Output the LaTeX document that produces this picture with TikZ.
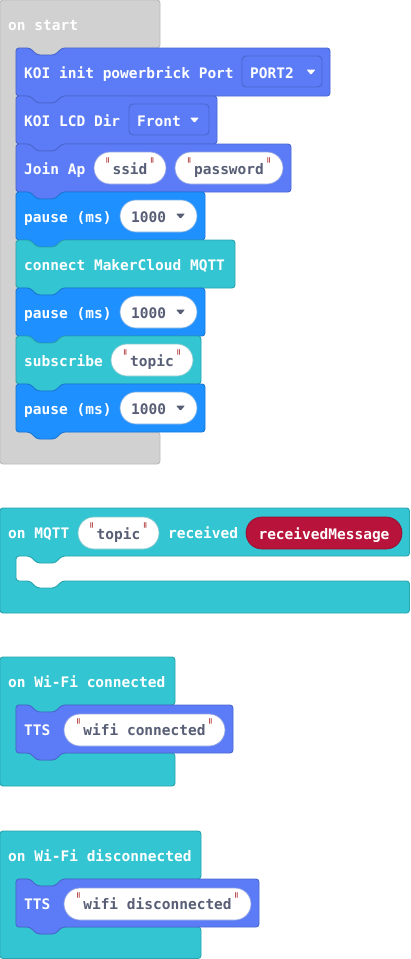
\documentclass[tikz,border=0pt]{standalone}
\usepackage{fontspec}
\usepackage{graphicx}
\newfontfamily\blockfont{DejaVu Sans Mono}
\definecolor{koi}{HTML}{5B7CF6}
\definecolor{koiedge}{HTML}{4A66CF}
\definecolor{basic}{HTML}{1E90FF}
\definecolor{basicedge}{HTML}{1A78D6}
\definecolor{cloud}{HTML}{33C5D2}
\definecolor{cloudedge}{HTML}{2AA4AE}
\definecolor{evgray}{HTML}{D1D1D1}
\definecolor{evgrayedge}{HTML}{BBBBBB}
\definecolor{varred}{HTML}{B8133A}
\definecolor{varrededge}{HTML}{931030}
\definecolor{fieldtext}{HTML}{575E75}
\definecolor{quotered}{HTML}{A31515}

% statement block with top notch and bottom tab: x, y, width, height, fill, edge
\newcommand{\stmtblock}[6]{%
  \draw[blk, fill=#5, draw=#6] (#1,#2) -- ++(14,0) -- ++(7,7) -- ++(18,0) -- ++(7,-7)
    -- (#1+#3,#2) -- (#1+#3,#2+#4) -- (#1+46,#2+#4) -- ++(-7,7) -- ++(-18,0) -- ++(-7,-7)
    -- (#1,#2+#4) -- cycle;}
% event block (C shape): top, bottom-arm top, bottom, width, fill, edge
\newcommand{\eventblock}[6]{%
  \draw[blk, fill=#5, draw=#6] (0,#1) -- (#4,#1) -- (#4,#1+48) -- (62,#1+48) -- ++(-7,7)
    -- ++(-18,0) -- ++(-7,-7) -- (16,#1+48) -- (16,#2) -- (30,#2) -- ++(7,7) -- ++(18,0)
    -- ++(7,-7) -- (#4,#2) -- (#4,#3) -- (0,#3) -- cycle;}
% string quote mark
\newcommand{\qmark}{{\color{quotered}\mdseries\raisebox{2pt}{\scalebox{0.6}[1.4]{"}}}}
% string value with quotes on both sides
\newcommand{\strval}[1]{\qmark\hspace{2.2pt}#1\hspace{2.2pt}\qmark}
% dropdown arrow centred at x, y
\newcommand{\droparrow}[3]{\fill[#3, rounded corners=0.8pt] (#1-4.5,#2-2.5) -- (#1+4.5,#2-2.5) -- (#1,#2+2.8) -- cycle;}

\tikzset{
  blk/.style={line width=0.9pt, rounded corners=3pt},
  lbl/.style={font=\blockfont\bfseries\fontsize{14.5}{16}\selectfont, text=white, inner sep=0pt, anchor=base west},
  fld/.style={lbl, text=fieldtext, anchor=base},
  pill/.style={fill=white, line width=0.7pt, rounded corners=15.9pt},
  drop/.style={line width=0.9pt, rounded corners=4pt},
}

\begin{document}
\begin{tikzpicture}[x=1pt, y=-1pt]
\useasboundingbox (0,0) rectangle (410,959);
\clip (0,0) rectangle (410,959);

% ---- on start ----
\eventblock{0}{432}{464}{160}{evgray}{evgrayedge}
\node[lbl] (onstart) at (8,30) {on start};

\stmtblock{16}{48}{314}{48}{koi}{koiedge}
\node[lbl] (koiinit) at (24,78) {KOI init powerbrick Port};
\draw[drop, fill=koi, draw=koiedge] (242,56) rectangle (322,87);
\node[lbl] (port) at (250,78) {PORT2};
\droparrow{311}{72}{white}

\stmtblock{16}{96}{201}{48}{koi}{koiedge}
\node[lbl] (lcddir) at (24,126) {KOI LCD Dir};
\draw[drop, fill=koi, draw=koiedge] (129,104) rectangle (209,135);
\node[lbl] (front) at (137,126) {Front};
\droparrow{194.5}{120}{white}

\stmtblock{16}{144}{275}{48}{koi}{koiedge}
\node[lbl] (joinap) at (24,174) {Join Ap};
\draw[pill, draw=koiedge!60] (94,152) rectangle (166,184);
\node[fld] (ssid) at (130,174) {\strval{ssid}};
\draw[pill, draw=koiedge!60] (175,152) rectangle (283,184);
\node[fld] (password) at (229,174) {\strval{password}};

\stmtblock{16}{192}{189}{48}{basic}{basicedge}
\node[lbl] (pauseA) at (24,222) {pause (ms)};
\draw[pill, draw=basicedge!60] (120,200) rectangle (197,232);
\node[lbl, text=fieldtext] (msA) at (131,222) {1000};
\droparrow{180.5}{216}{fieldtext}

\stmtblock{16}{240}{219}{48}{cloud}{cloudedge}
\node[lbl] (connect) at (24,270) {connect MakerCloud MQTT};

\stmtblock{16}{288}{189}{48}{basic}{basicedge}
\node[lbl] (pauseB) at (24,318) {pause (ms)};
\draw[pill, draw=basicedge!60] (120,296) rectangle (197,328);
\node[lbl, text=fieldtext] (msB) at (131,318) {1000};
\droparrow{180.5}{312}{fieldtext}

\stmtblock{16}{336}{185}{48}{cloud}{cloudedge}
\node[lbl] (subscribe) at (24,366) {subscribe};
\draw[pill, draw=cloudedge!60] (111,344) rectangle (193,376);
\node[fld] (subtopic) at (152,366) {\strval{topic}};

\stmtblock{16}{384}{189}{48}{basic}{basicedge}
\node[lbl] (pauseC) at (24,414) {pause (ms)};
\draw[pill, draw=basicedge!60] (120,392) rectangle (197,424);
\node[lbl, text=fieldtext] (msC) at (131,414) {1000};
\droparrow{180.5}{408}{fieldtext}

% ---- on MQTT received ----
\eventblock{508}{581}{613}{409.5}{cloud}{cloudedge}
\node[lbl] (onmqtt) at (8,538) {on MQTT};
\draw[pill, draw=cloudedge!60] (78,517) rectangle (159,549);
\node[fld] (mqtttopic) at (118.5,539) {\strval{topic}};
\node[lbl] (received) at (168,538) {received};
\draw[pill, fill=varred, draw=varrededge] (246,517) rectangle (402,549);
\node[lbl, anchor=base] (recmsg) at (324,539) {receivedMessage};

% ---- on Wi-Fi connected ----
\eventblock{657}{753}{786}{175}{cloud}{cloudedge}
\node[lbl] (onwifi) at (8,687) {on Wi-Fi connected};
\stmtblock{16}{705}{217}{48}{koi}{koiedge}
\node[lbl] (ttsA) at (24,735) {TTS};
\draw[pill, draw=koiedge!60] (64,714) rectangle (225,746);
\node[fld] (wificon) at (144.5,735) {\strval{wifi connected}};

% ---- on Wi-Fi disconnected ----
\eventblock{831}{927}{958.5}{201}{cloud}{cloudedge}
\node[lbl] (onwifidis) at (8,861) {on Wi-Fi disconnected};
\stmtblock{16}{879}{243}{48}{koi}{koiedge}
\node[lbl] (ttsB) at (24,909) {TTS};
\draw[pill, draw=koiedge!60] (64,888) rectangle (251,920);
\node[fld] (wifidis) at (157.5,909) {\strval{wifi disconnected}};
\end{tikzpicture}
\end{document}
